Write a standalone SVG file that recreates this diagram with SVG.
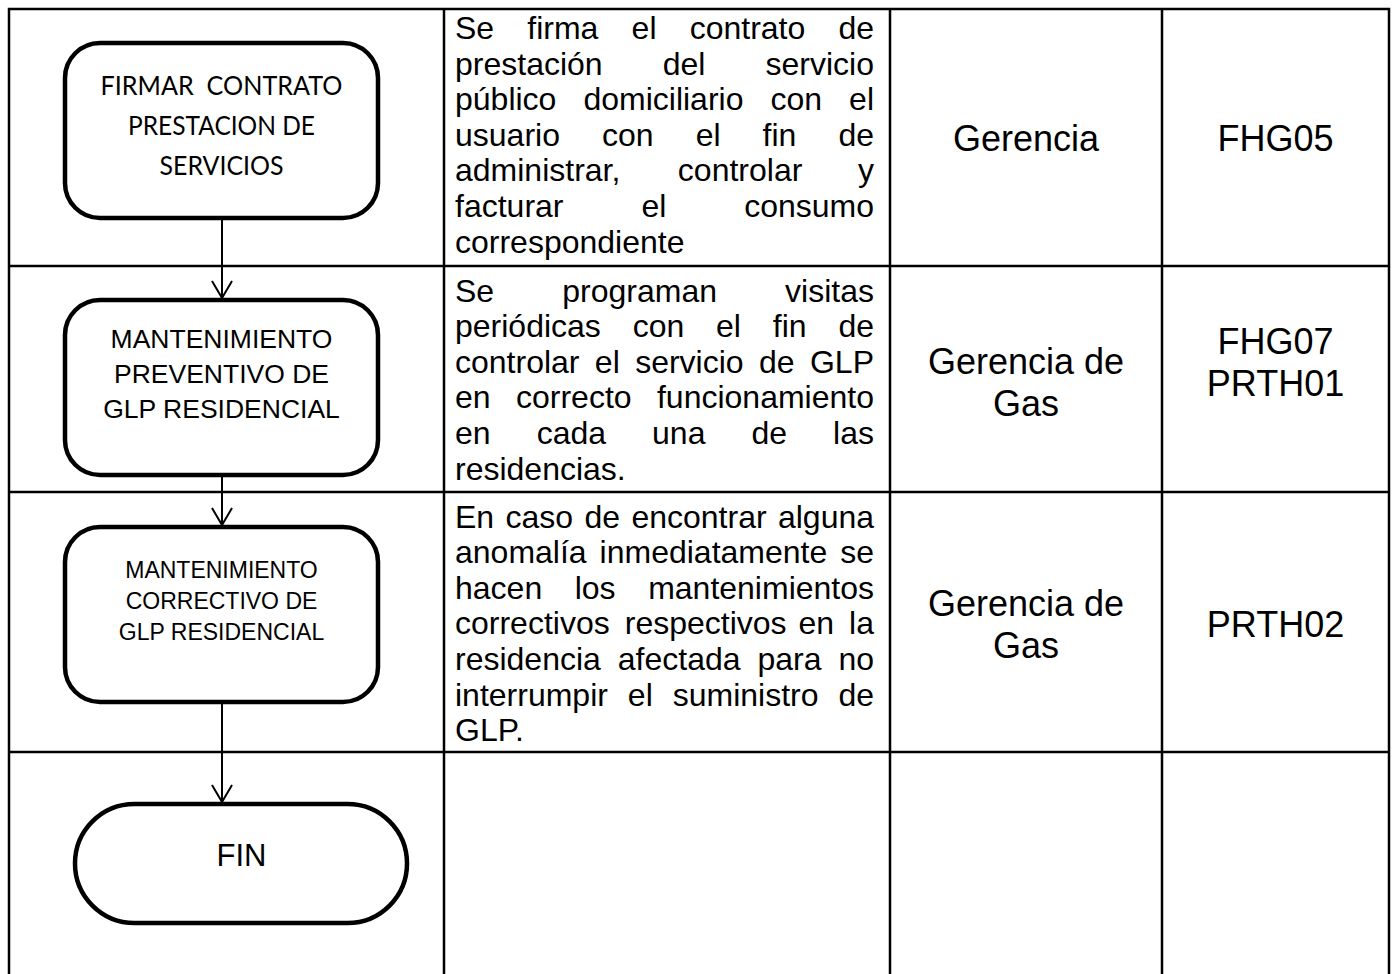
<svg xmlns="http://www.w3.org/2000/svg" width="1395" height="974" viewBox="0 0 1395 974">
<style>
.grid{fill:none;stroke:#000;stroke-width:2.5}
.node{fill:#fff;stroke:#000;stroke-width:4.5}
.conn{fill:none;stroke:#000;stroke-width:2}
.desc{font-family:"Liberation Sans",Arial,sans-serif;font-size:32px;fill:#000}
.cell{font-family:"Liberation Sans",Arial,sans-serif;font-size:36px;fill:#000;text-anchor:middle}
.cal{font-family:Lato,"Open Sans",sans-serif;font-size:26.5px;fill:#000;text-anchor:middle;white-space:pre}
.ar{font-family:"Liberation Sans",Arial,sans-serif;fill:#000;text-anchor:middle}
</style>
<defs>
<marker id="vhead" markerUnits="userSpaceOnUse" markerWidth="22" markerHeight="24" viewBox="-1 -1 20 24" refX="17" refY="10" orient="auto">
<path d="M0,0 L17,10 L0,20" fill="none" stroke="#000" stroke-width="2"/>
</marker>
</defs>
<rect width="1395" height="974" fill="#fff"/>
<g id="table">
<rect class="grid" x="9" y="9" width="1380" height="1000"/>
<line class="grid" x1="444" y1="9" x2="444" y2="980"/>
<line class="grid" x1="890" y1="9" x2="890" y2="980"/>
<line class="grid" x1="1162" y1="9" x2="1162" y2="980"/>
<line class="grid" x1="9" y1="266" x2="1389" y2="266"/>
<line class="grid" x1="9" y1="492" x2="1389" y2="492"/>
<line class="grid" x1="9" y1="752" x2="1389" y2="752"/>
</g>
<g id="connectors">
<line class="conn" x1="222" y1="218" x2="222" y2="298" marker-end="url(#vhead)"/>
<line class="conn" x1="222" y1="475" x2="222" y2="525" marker-end="url(#vhead)"/>
<line class="conn" x1="222" y1="702" x2="222" y2="802" marker-end="url(#vhead)"/>
</g>
<g id="n1">
<rect class="node" x="65" y="43" width="313" height="175" rx="35"/>
<text class="cal" x="221.5" y="95" textLength="242" lengthAdjust="spacingAndGlyphs">FIRMAR  CONTRATO</text>
<text class="cal" x="221.5" y="135" textLength="187" lengthAdjust="spacingAndGlyphs">PRESTACION DE</text>
<text class="cal" x="221.5" y="174.5" textLength="124" lengthAdjust="spacingAndGlyphs">SERVICIOS</text>
</g>
<g id="n2">
<rect class="node" x="65" y="300" width="313" height="175" rx="35"/>
<text class="ar" font-size="26.5" x="221.5" y="348">MANTENIMIENTO</text>
<text class="ar" font-size="26.5" x="221.5" y="383">PREVENTIVO DE</text>
<text class="ar" font-size="26.5" x="221.5" y="418">GLP RESIDENCIAL</text>
</g>
<g id="n3">
<rect class="node" x="65" y="527" width="313" height="175" rx="35"/>
<text class="ar" font-size="23" x="221.5" y="577.5">MANTENIMIENTO</text>
<text class="ar" font-size="23" x="221.5" y="608.5">CORRECTIVO DE</text>
<text class="ar" font-size="23" x="221.5" y="639.5">GLP RESIDENCIAL</text>
</g>
<g id="fin">
<rect class="node" x="75" y="804" width="332" height="119" rx="59.5"/>
<text class="ar" font-size="31" x="241.5" y="865.5">FIN</text>
</g>
<g id="desc1">
<text class="desc" y="39"><tspan x="455">Se</tspan><tspan x="527.31">firma</tspan><tspan x="631.58">el</tspan><tspan x="689.65">contrato</tspan><tspan x="838.42">de</tspan></text>
<text class="desc" y="74.6"><tspan x="455">prestación</tspan><tspan x="662.74">del</tspan><tspan x="765.55">servicio</tspan></text>
<text class="desc" y="110.2"><tspan x="455">público</tspan><tspan x="583.43">domiciliario</tspan><tspan x="770.48">con</tspan><tspan x="849.1">el</tspan></text>
<text class="desc" y="145.8"><tspan x="455">usuario</tspan><tspan x="601.99">con</tspan><tspan x="695.63">el</tspan><tspan x="762.59">fin</tspan><tspan x="838.42">de</tspan></text>
<text class="desc" y="181.4"><tspan x="455">administrar,</tspan><tspan x="677.83">controlar</tspan><tspan x="858">y</tspan></text>
<text class="desc" y="217"><tspan x="455">facturar</tspan><tspan x="641.38">el</tspan><tspan x="744.18">consumo</tspan></text>
<text class="desc" y="252.6" x="455">correspondiente</text>
</g>
<g id="desc2">
<text class="desc" y="301.5"><tspan x="455">Se</tspan><tspan x="562.26">programan</tspan><tspan x="785.1">visitas</tspan></text>
<text class="desc" y="337.1"><tspan x="455">periódicas</tspan><tspan x="632.65">con</tspan><tspan x="716.06">el</tspan><tspan x="772.79">fin</tspan><tspan x="838.42">de</tspan></text>
<text class="desc" y="372.7"><tspan x="455">controlar</tspan><tspan x="594.87">el</tspan><tspan x="635.16">servicio</tspan><tspan x="759">de</tspan><tspan x="809.97">GLP</tspan></text>
<text class="desc" y="408.3"><tspan x="455">en</tspan><tspan x="515.99">correcto</tspan><tspan x="656.98">funcionamiento</tspan></text>
<text class="desc" y="443.9"><tspan x="455">en</tspan><tspan x="536.63">cada</tspan><tspan x="652.06">una</tspan><tspan x="751.49">de</tspan><tspan x="833.1">las</tspan></text>
<text class="desc" y="479.5" x="455">residencias.</text>
</g>
<g id="desc3">
<text class="desc" y="527.5"><tspan x="455">En</tspan><tspan x="505.51">caso</tspan><tspan x="584.46">de</tspan><tspan x="631.41">encontrar</tspan><tspan x="777.94">alguna</tspan></text>
<text class="desc" y="563.1"><tspan x="455">anomalía</tspan><tspan x="599.59">inmediatamente</tspan><tspan x="840.21">se</tspan></text>
<text class="desc" y="598.7"><tspan x="455">hacen</tspan><tspan x="574.71">los</tspan><tspan x="648.14">mantenimientos</tspan></text>
<text class="desc" y="634.3"><tspan x="455">correctivos</tspan><tspan x="624.76">respectivos</tspan><tspan x="798.45">en</tspan><tspan x="849.1">la</tspan></text>
<text class="desc" y="669.9"><tspan x="455">residencia</tspan><tspan x="617.76">afectada</tspan><tspan x="757.45">para</tspan><tspan x="838.42">no</tspan></text>
<text class="desc" y="705.5"><tspan x="455">interrumpir</tspan><tspan x="627.84">el</tspan><tspan x="672.68">suministro</tspan><tspan x="838.42">de</tspan></text>
<text class="desc" y="741.1" x="455">GLP.</text>
</g>
<g id="resp">
<text class="cell" x="1026" y="150.5">Gerencia</text>
<text class="cell" x="1026" y="374">Gerencia de</text>
<text class="cell" x="1026" y="415.5">Gas</text>
<text class="cell" x="1026" y="616">Gerencia de</text>
<text class="cell" x="1026" y="657.5">Gas</text>
</g>
<g id="docs">
<text class="cell" x="1275.5" y="150.5">FHG05</text>
<text class="cell" x="1275.5" y="354">FHG07</text>
<text class="cell" x="1275.5" y="395.5">PRTH01</text>
<text class="cell" x="1275.5" y="637">PRTH02</text>
</g>
</svg>
